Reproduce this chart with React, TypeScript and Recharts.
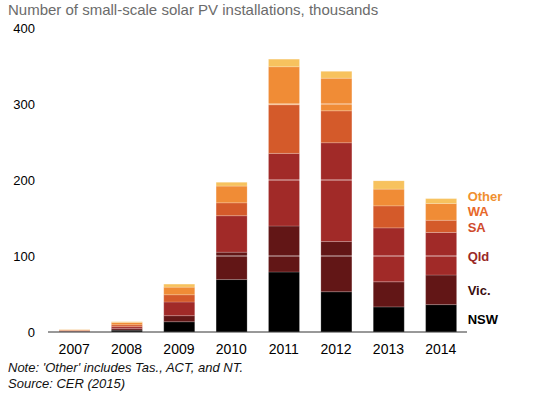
import { BarChart, Bar, XAxis, YAxis, ReferenceLine, LabelList } from 'recharts';

const YEARS = ['2007', '2008', '2009', '2010', '2011', '2012', '2013', '2014'];
const NSW = [0.5, 2.5, 13.5, 69, 79, 53, 33, 36];
const VIC = [0.3, 2, 8, 36, 60.5, 66, 33, 39];
const QLD = [0.6, 2.5, 18, 48, 95.5, 130, 71, 56];
const SA = [0.9, 2.5, 9.5, 17, 64, 42, 29, 16];
const WA = [0.6, 3, 10, 22, 50, 43, 22, 22];
const OTHER = [0.3, 1, 4, 5, 10, 9, 11, 6.5];
const Y_TICKS = [0, 100, 200, 300, 400];
const GRID_VALUES = [100, 200, 300];

const data = YEARS.map((year, i) => ({
  year,
  nsw: NSW[i],
  vic: VIC[i],
  qld: QLD[i],
  sa: SA[i],
  wa: WA[i],
  other: OTHER[i],
}));

// shift: nudge of the end label off the segment middle, px
const SERIES = [
  { key: 'nsw', label: 'NSW', fill: '#000000', text: '#000000', shift: 1 },
  { key: 'vic', label: 'Vic.', fill: '#621616', text: '#3a0d0d', shift: 1 },
  { key: 'qld', label: 'Qld', fill: '#a12a28', text: '#9a2a27', shift: 3 },
  { key: 'sa', label: 'SA', fill: '#d45a2a', text: '#cf4a2c', shift: 1 },
  { key: 'wa', label: 'WA', fill: '#f08c36', text: '#e8692a', shift: 0 },
  { key: 'other', label: 'Other', fill: '#f7c25e', text: '#f0902f', shift: -5 },
];

const LAST = YEARS.length - 1;

function endLabel(text: string, color: string, shift: number) {
  return (props: any) => {
    const { x, y, width, height, index } = props;
    if (index !== LAST) return null;
    return (
      <text
        x={Number(x) + Number(width) + 11}
        y={Number(y) + Number(height) / 2 + shift}
        dominantBaseline="central"
        fontSize={13}
        fontWeight="bold"
        fill={color}
      >
        {text}
      </text>
    );
  };
}

export default function App() {
  return (
    <div
      style={{
        position: 'absolute',
        top: 0,
        left: 0,
        width: 533,
        height: 402,
        background: '#fff',
        fontFamily: '"Liberation Sans", Arial, sans-serif',
      }}
    >
      <div style={{ position: 'absolute', left: 8, top: 1, fontSize: 15, color: '#6b6b6b', whiteSpace: 'nowrap' }}>
        Number of small-scale solar PV installations, thousands
      </div>
      <BarChart
        width={533}
        height={362}
        data={data}
        margin={{ top: 28, right: 66, left: 0, bottom: 0 }}
        style={{ position: 'absolute', top: 0, left: 0 }}
      >
        <XAxis
          dataKey="year"
          height={30}
          tickSize={0}
          tickMargin={12}
          axisLine={{ stroke: '#333', strokeWidth: 1 }}
          tick={{ fill: '#000', fontSize: 14 }}
        />
        <YAxis
          width={48}
          domain={[0, 400]}
          ticks={Y_TICKS}
          axisLine={false}
          tickLine={false}
          tickSize={0}
          tickMargin={13}
          tick={{ fill: '#000', fontSize: 13 }}
        />
        {SERIES.map((s) => (
          <Bar
            key={s.key}
            dataKey={s.key}
            stackId="a"
            fill={s.fill}
            barSize={31}
            stroke="#ffffff"
            strokeOpacity={0.3}
            strokeWidth={0.6}
            isAnimationActive={false}
          >
            <LabelList dataKey={s.key} content={endLabel(s.label, s.text, s.shift)} />
          </Bar>
        ))}
        {GRID_VALUES.map((v) => (
          <ReferenceLine key={v} y={v} stroke="#ffffff" strokeOpacity={0.7} strokeWidth={1} />
        ))}
      </BarChart>
      <div
        style={{
          position: 'absolute',
          left: 8,
          top: 360,
          fontSize: 13,
          fontStyle: 'italic',
          lineHeight: '16px',
          color: '#111',
        }}
      >
        <div>Note: 'Other' includes Tas., ACT, and NT.</div>
        <div>Source: CER (2015)</div>
      </div>
    </div>
  );
}
